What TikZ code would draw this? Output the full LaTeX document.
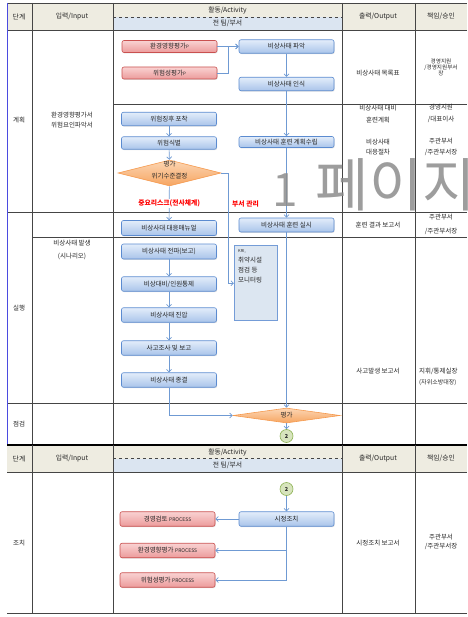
\documentclass[tikz,border=0pt]{standalone}
\usepackage{fontspec}
\setmainfont{Noto Sans CJK KR}
\usetikzlibrary{shapes.geometric,shadows,arrows.meta}

\definecolor{hdrtan}{HTML}{EEECE1}
\definecolor{hdrblue}{HTML}{DBE5F1}
\definecolor{gridline}{HTML}{454545}
\definecolor{edgeblue}{HTML}{4B4BE0}
\definecolor{flowblue}{HTML}{6F9AD3}
\definecolor{redtop}{HTML}{F9D2D2}
\definecolor{redbot}{HTML}{EC9B9B}
\definecolor{redline}{HTML}{C9504F}
\definecolor{bluetop}{HTML}{E3EDFA}
\definecolor{bluebot}{HTML}{A9C4EA}
\definecolor{blueline}{HTML}{5B8BD0}
\definecolor{orangetop}{HTML}{FCD6B4}
\definecolor{orangebot}{HTML}{F6A561}
\definecolor{orangeline}{HTML}{F59A4F}
\definecolor{greenfill}{HTML}{D7E4BD}
\definecolor{greenline}{HTML}{8DB255}
\definecolor{kriblue}{HTML}{DCE6F1}
\definecolor{markgray}{HTML}{8C8C8C}

\begin{document}
\begin{tikzpicture}
	[
		x=1pt, y=-1pt,
		every node/.style={font=\fontsize{6.5}{10}\selectfont, text=black!85, inner sep=0pt},
		grid/.style={draw=gridline, line width=0.8pt},
		head/.style={font=\fontsize{6.8}{8}\selectfont},
		small/.style={font=\fontsize{5.6}{6}\selectfont},
		redbox/.style={rectangle, rounded corners=2pt, draw=redline, line width=0.6pt, top color=redtop, bottom color=redbot, minimum width=95pt, minimum height=12pt, drop shadow={opacity=0.25, shadow xshift=0.6pt, shadow yshift=-0.9pt}},
		bluebox/.style={rectangle, rounded corners=2pt, draw=blueline, line width=0.6pt, top color=bluetop, bottom color=bluebot, minimum width=95pt, minimum height=13.5pt, drop shadow={opacity=0.25, shadow xshift=0.6pt, shadow yshift=-0.9pt}},
		decision/.style={diamond, draw=orangeline, line width=0.6pt, top color=orangetop, bottom color=orangebot},
		connector/.style={circle, draw=greenline, fill=greenfill, line width=0.6pt, minimum size=13pt, font=\fontsize{5.5}{6}\selectfont\bfseries},
		monitor/.style={rectangle, draw=blueline!85, fill=kriblue, line width=0.7pt, minimum width=43pt, minimum height=75pt},
		flow/.style={draw=flowblue, line width=0.7pt, -{Straight Barb[length=2.5pt, width=5pt]}},
		branch/.style={text=red, font=\fontsize{6.8}{8}\selectfont\bfseries},
		pagemark/.style={text=markgray, font=\fontsize{46}{46}\selectfont, opacity=0.85}
	]
	\useasboundingbox (0,0) rectangle (467,617);
	\clip (0,0) rectangle (467,617);

	\fill [hdrtan] (7,3) rectangle (467,30);
	\fill [hdrblue] (113,17) rectangle (342,30);
	\fill [hdrtan] (7,445) rectangle (467,472);
	\fill [hdrblue] (113,458.5) rectangle (342,472);
	\draw [gridline, dashed, line width=0.5pt] (113,17) -- (342,17);
	\draw [gridline, dashed, line width=0.5pt] (113,458.5) -- (342,458.5);

	\draw [grid] (7,3) -- (467,3);
	\draw [grid] (7,30) -- (467,30);
	\draw [grid] (113,104.5) -- (467,104.5);
	\draw [grid] (7,212.5) -- (467,212.5);
	\draw [grid] (32,237) -- (467,237);
	\draw [grid] (7,403) -- (467,403);
	\foreach \x in {32,113,342,415}
		\draw [grid] (\x,3) -- (\x,445);
	\draw [line width=1.8pt] (7,445) -- (467,445);
	\draw [grid] (7,472) -- (467,472);
	\draw [grid] (7,613) -- (467,613);
	\foreach \x in {32,113,342,415}
		\draw [grid] (\x,445) -- (\x,613);
	\draw [draw=edgeblue, line width=1.5pt] (7.5,3) -- (7.5,444);

	\node (hstage)  at (19,16.5)   [head] {단계};
	\node (hinput)  at (72,16.5)   [head] {입력/Input};
	\node (hact)    at (227.5,10)  [head] {활동/Activity};
	\node (hteam)   at (227.5,23.5) [head] {전 팀/부서};
	\node (houtput) at (378,16.5)  [head] {출력/Output};
	\node (hsign)   at (441,16.5)  [head] {책임/승인};

	\node (hstageb)  at (19,458.5)   [head] {단계};
	\node (hinputb)  at (72,458.5)   [head] {입력/Input};
	\node (hactb)    at (227.5,452)  [head] {활동/Activity};
	\node (hteamb)   at (227.5,465)  [head] {전 팀/부서};
	\node (houtputb) at (378,458.5)  [head] {출력/Output};
	\node (hsignb)   at (441,458.5)  [head] {책임/승인};

	\node (stplan)  at (19,120) {계획};
	\node (stexec)  at (19,308) {실행};
	\node (stcheck) at (19,424) {점검};
	\node (stact)   at (19,543) {조치};

	\node (inplan)  at (72,120) [align=center] {환경영향평가서\\위험요인파악서};
	\node (inexec)  at (72,249.5) [align=center, font=\fontsize{6.5}{13}\selectfont] {비상사태 발생\\(시나리오)};

	\node (eia)      at (169.5,46.5) [redbox] {환경영향평가{\fontsize{4.5}{5}\selectfont P}};
	\node (risk)     at (169.5,73)   [redbox] {위험성평가{\fontsize{4.5}{5}\selectfont P}};
	\node (grasp)    at (286.5,46.5) [bluebox] {비상사태 파악};
	\node (aware)    at (286.5,84)   [bluebox] {비상사태 인식};
	\node (detect)   at (169,119)    [bluebox] {위험징후 포착};
	\node (identify) at (169,143)    [bluebox, minimum height=12.5pt] {위험식별};
	\node (decide)   at (169.5,173)  [decision, minimum width=103pt, minimum height=26pt] {};
	\node (decidetext) at (169.5,170) [align=center, font=\fontsize{6.5}{12.5}\selectfont] {평가\\위기수준결정};
	\node (drillplan) at (286.5,142) [bluebox, minimum height=11pt] {비상사태 훈련 계획수립};
	\node (manual)   at (169,228)    [bluebox, minimum height=15pt] {비상사대 대응매뉴얼};
	\node (drill)    at (286.5,225)  [bluebox, minimum height=14pt] {비상사태 훈련 실시};
	\node (spread)   at (169,251.5)  [bluebox, minimum height=15pt] {비상사태 전파(보고)};
	\node (control)  at (169,284)    [bluebox, minimum height=14.5pt] {비상대비/인원통제};
	\node (suppress) at (169,315)    [bluebox, minimum height=14.5pt] {비상사태 진압};
	\node (inquiry)  at (169,348)    [bluebox, minimum height=14.5pt] {사고조사 및 보고};
	\node (closing)  at (169,380)    [bluebox, minimum height=14.5pt] {비상사태 종결};
	\node (kri)      at (255.7,283.2) [monitor] {};
	\node (kritext)  at (238,249)    [anchor=north west, align=left] {{\fontsize{4}{5}\selectfont KRI,}\\취약시설\\점검 등\\모니터링};
	\node (evaluate) at (286.5,415.5) [decision, aspect=7, minimum width=107pt, minimum height=15pt] {평가};
	\node (linkout)  at (286.5,436)  [connector] {2};

	\node (linkin)   at (286.5,489)  [connector] {2};
	\node (fix)      at (286.5,519)  [bluebox, minimum height=14.5pt] {시정조치};
	\node (review)   at (167.5,519)  [redbox, minimum height=14.5pt] {경영검토 {\fontsize{5}{6}\selectfont PROCESS}};
	\node (eiaproc)  at (167.5,550.5) [redbox, minimum height=14.5pt] {환경영향평가 {\fontsize{5}{6}\selectfont PROCESS}};
	\node (riskproc) at (167.5,580)  [redbox, minimum height=14.5pt] {위험성평가 {\fontsize{5}{6}\selectfont PROCESS}};

	\draw [flow] (eia) -- (grasp);
	\draw [flow] (risk.east) -- ++(11,0) |- (grasp.west);
	\draw [flow] (grasp) -- (aware);
	\draw [flow] (aware) -- (drillplan);
	\draw [flow] (drillplan) -- (drill);
	\draw [flow] (drill) -- (evaluate);
	\draw [flow] (detect) -- (identify);
	\draw [flow] (identify) -- (decide);
	\draw [flow] (decide) -- node [branch, midway, fill=white, inner sep=0.8pt] {중요리스크(전사체계)} (manual);
	\draw [flow] (decide.east) -- ++(7,0) |- (kri.west);
	\node (deptlabel) at (245.5,204) [branch] {부서 관리};
	\draw [flow] (spread) -- (control);
	\draw [flow] (control) -- (suppress);
	\draw [flow] (suppress) -- (inquiry);
	\draw [flow] (inquiry) -- (closing);
	\draw [flow] (closing.south) |- (evaluate.west);
	\draw [flow] (evaluate) -- (linkout);
	\draw [flow] (linkin) -- (fix);
	\draw [flow] (fix) -- (review);
	\draw [flow] (fix.south) |- (eiaproc.east);
	\draw [flow] (fix.south) |- (riskproc.east);

	\node (outlist)  at (378,73)  {비상사태 목록표};
	\node (outplan)  at (378,114) [align=center, font=\fontsize{6.5}{12}\selectfont] {비상사태 대비\\훈련계획};
	\node (outproc)  at (378,147) [align=center, font=\fontsize{6.5}{10.5}\selectfont] {비상사태\\대응절차};
	\node (outdrill) at (378,225) {훈련 결과 보고서};
	\node (outacc)   at (378,371) {사고발생 보고서};
	\node (outfix)   at (378,543) {시정조치 보고서};

	\node (signgrasp) at (441,67)    [small, align=center] {경영지원\\/경영지원부서\\장};
	\node (signplan)  at (441,113.5) [align=center, font=\fontsize{6.5}{12.5}\selectfont] {경영지원\\/대표이사};
	\node (signproc)  at (441,147)   [align=center, font=\fontsize{6.5}{10.5}\selectfont] {주관부서\\/주관부서장};
	\node (signdrill) at (441,224)   [align=center, font=\fontsize{6.5}{14}\selectfont] {주관부서\\/주관부서장};
	\node (signacc)   at (419,377)   [anchor=west, align=left, font=\fontsize{6.5}{11.5}\selectfont] {지휘/통제실장\\{\fontsize{6}{7}\selectfont(자위소방대장)}};
	\node (signfix)   at (441,542)   [align=center, font=\fontsize{6.5}{9}\selectfont] {주관부서\\/주관부서장};

	\node (watermark) at (272,207) [pagemark, anchor=base west] {1\hspace{18pt}{\fontsize{58}{58}\selectfont 페이지}};
\end{tikzpicture}
\end{document}
